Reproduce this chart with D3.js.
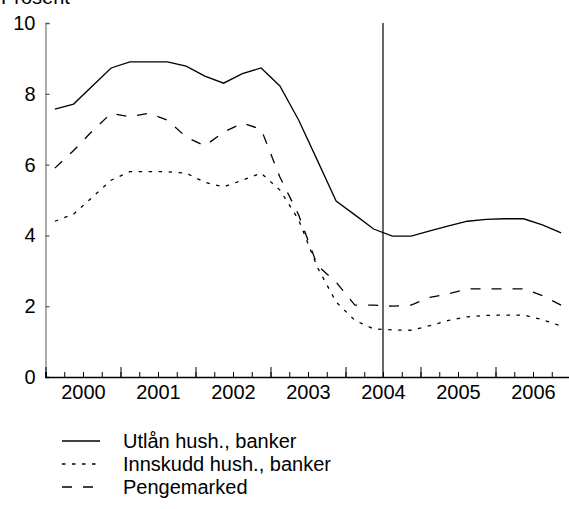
<!DOCTYPE html>
<html>
<head>
<meta charset="utf-8">
<script src="https://cdn.jsdelivr.net/npm/d3@7"></script>
<style>
  html, body { margin: 0; padding: 0; background: #fff; }
  svg { display: block; font-family: "Liberation Sans", Arial, sans-serif; }
</style>
</head>
<body>
<svg id="chart" width="569" height="509"></svg>
<script>
// Quarterly periods 2000Q1 .. 2006Q4
const years = [2000, 2001, 2002, 2003, 2004, 2005, 2006];
const quarters = [];
years.forEach(y => [0, 1, 2, 3].forEach(q => quarters.push(y + (q + 0.5) / 4)));

const utlan = [7.57, 7.71, 8.22, 8.73, 8.9, 8.9, 8.9, 8.78, 8.5, 8.3, 8.57, 8.73,
               8.22, 7.26, 6.12, 4.97, 4.58, 4.18, 3.98, 3.98, 4.13, 4.27, 4.4, 4.45,
               4.47, 4.47, 4.3, 4.07];
const innskudd = [4.4, 4.6, 5.08, 5.56, 5.8, 5.8, 5.8, 5.76, 5.5, 5.37, 5.56, 5.76,
                  5.28, 4.44, 3.1, 2.12, 1.6, 1.36, 1.33, 1.32, 1.45, 1.6, 1.7, 1.74,
                  1.75, 1.75, 1.62, 1.44];
const pengemarked = [5.9, 6.4, 6.95, 7.45, 7.35, 7.45, 7.26, 6.78, 6.53, 6.92, 7.17, 7.0,
                     5.65, 4.58, 3.15, 2.68, 2.03, 2.03, 2.0, 2.03, 2.25, 2.35, 2.49, 2.49,
                     2.49, 2.49, 2.3, 2.03];
const seriesNames = ["Utlån hush., banker", "Innskudd hush., banker", "Pengemarked"];
const yTicks = [0, 2, 4, 6, 8, 10];
const markerLine = 2004.5;
const yTitle = "Prosent";

const FONT = 20;
const svg = d3.select("#chart");
const x = d3.scaleLinear().domain([2000, 2007]).range([45.5, 570.5]);
const y = d3.scaleLinear().domain([0, 10]).range([377, 23]);

// Y axis
const yAxis = svg.append("g")
  .attr("transform", "translate(45.5,0)")
  .call(d3.axisLeft(y).tickValues(yTicks).tickSize(-4).tickPadding(10));
yAxis.select(".domain").attr("stroke", "#808080").attr("stroke-width", 1.3);
yAxis.selectAll(".tick line").attr("stroke", "#555").attr("stroke-width", 1.2);
yAxis.selectAll("text").attr("font-size", FONT).attr("fill", "#000")
  .attr("font-family", "Liberation Sans, Arial, sans-serif");

// X axis: minor quarter ticks
const qTicks = d3.range(2000, 2007.001, 0.25);
const xMinor = svg.append("g").attr("transform", "translate(0,377)")
  .call(d3.axisBottom(x).tickValues(qTicks).tickSize(-5).tickFormat(""));
xMinor.select(".domain").attr("stroke", "#000").attr("stroke-width", 1.6);
xMinor.selectAll(".tick line").attr("stroke", "#000").attr("stroke-width", 1);
// Major year ticks
const xMajor = svg.append("g").attr("transform", "translate(0,377)")
  .call(d3.axisBottom(x).tickValues(d3.range(2000, 2008)).tickSize(-10).tickFormat(""));
xMajor.select(".domain").remove();
xMajor.selectAll(".tick line").attr("stroke", "#000").attr("stroke-width", 1);
// Year labels
const xLab = svg.append("g").attr("transform", "translate(0,377)")
  .call(d3.axisBottom(x).tickValues(years.map(v => v + 0.5)).tickSize(0).tickPadding(8)
    .tickFormat((d) => String(Math.floor(d))));
xLab.select(".domain").remove();
xLab.selectAll("text").attr("font-size", FONT).attr("fill", "#000")
  .attr("font-family", "Liberation Sans, Arial, sans-serif");

// Title (cut off at top, as in the reference)
svg.append("text").attr("x", 1).attr("y", 4).attr("font-size", FONT).text(yTitle);

// Vertical marker line
svg.append("line")
  .attr("x1", x(markerLine)).attr("x2", x(markerLine))
  .attr("y1", y(10)).attr("y2", y(0))
  .attr("stroke", "#000").attr("stroke-width", 1.2);

const line = d3.line().x((d, i) => x(quarters[i])).y(d => y(d));
const styles = [
  { data: utlan, dash: null },
  { data: innskudd, dash: "3.5,6.5" },
  { data: pengemarked, dash: "10,11" }
];
styles.forEach(s => {
  svg.append("path").datum(s.data)
    .attr("d", line)
    .attr("fill", "none")
    .attr("stroke", "#000")
    .attr("stroke-width", 1.3)
    .attr("stroke-dasharray", s.dash);
});

// Legend
const leg = svg.append("g");
seriesNames.forEach((name, i) => {
  const ly = 441 + i * 23;
  leg.append("line").attr("x1", 62).attr("x2", 100).attr("y1", ly).attr("y2", ly)
    .attr("stroke", "#000").attr("stroke-width", 1.3)
    .attr("stroke-dasharray", styles[i].dash);
  leg.append("text").attr("x", 123).attr("y", ly).attr("dy", "0.35em")
    .attr("font-size", FONT).text(name);
});
</script>
</body>
</html>
